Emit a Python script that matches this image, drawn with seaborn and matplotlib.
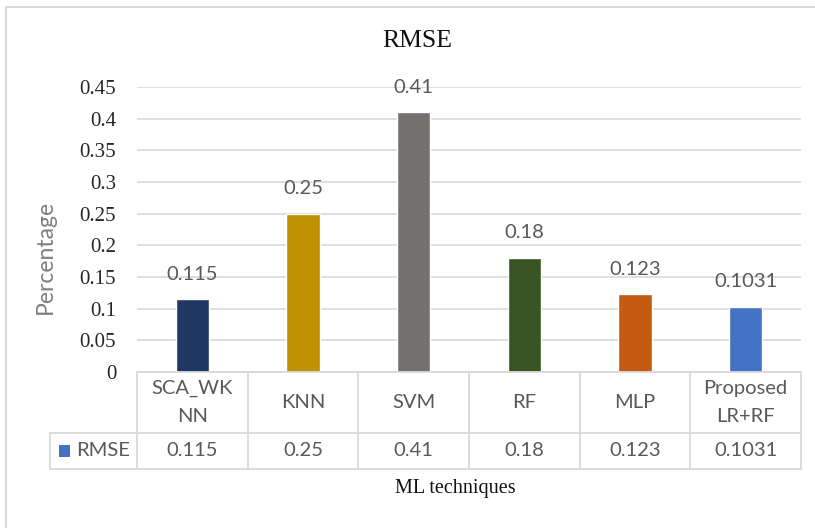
import matplotlib
matplotlib.use("Agg")
import matplotlib.pyplot as plt
from matplotlib.lines import Line2D
from matplotlib.patches import Rectangle
import seaborn as sns
import pandas as pd

# ---- data ----
categories = ["SCA_WK\nNN", "KNN", "SVM", "RF", "MLP", "Proposed\nLR+RF"]
rmse = [0.115, 0.25, 0.41, 0.18, 0.123, 0.1031]
value_labels = ["0.115", "0.25", "0.41", "0.18", "0.123", "0.1031"]
bar_colors = ["#203864", "#BF9000", "#767171", "#375623", "#C55A11", "#4472C4"]
series_name = "RMSE"
yticks = [0, 0.05, 0.1, 0.15, 0.2, 0.25, 0.3, 0.35, 0.4, 0.45]

df = pd.DataFrame({"technique": categories, "rmse": rmse})

sns.set_theme(style="white")
SERIF = ["Liberation Serif", "DejaVu Serif"]
SANS = ["Lato", "DejaVu Sans"]
TXT_GRAY = "#595959"
GRID = "#D9D9D9"
SANS_SIZE = 14.5

W, H = 815, 528
fig = plt.figure(figsize=(W / 100, H / 100), dpi=100)
fig.patch.set_facecolor("white")


def fx(px):
    return px / W


def fy(py):
    return 1 - py / H


# plot area in pixel coordinates
L, R, T, B = 137, 801, 87, 372
ax = fig.add_axes([fx(L), fy(B), fx(R - L), (B - T) / H])

sns.barplot(data=df, x="technique", y="rmse", hue="technique",
            palette=bar_colors, width=0.30, saturation=1, legend=False,
            ax=ax, zorder=3)

ax.set_xlim(-0.5, len(categories) - 0.5)
ax.set_ylim(0, 0.45)
ax.set_yticks(yticks)
ax.set_yticklabels([("%g" % v) for v in yticks], fontfamily=SERIF,
                   fontsize=15, color="#262626")
ax.tick_params(axis="y", length=0, pad=15)
ax.set_xticks([])
ax.set_xlabel("")
ax.set_ylabel("")
for s in ax.spines.values():
    s.set_visible(False)
ax.yaxis.grid(True, color=GRID, lw=1.2, zorder=0)
ax.set_axisbelow(True)

# value labels above bars
for i, (v, lab) in enumerate(zip(rmse, value_labels)):
    ax.annotate(lab, (i, v), xytext=(0, 18), textcoords="offset points",
                ha="center", va="center", fontsize=SANS_SIZE, color=TXT_GRAY,
                fontfamily=SANS)

# ---- data table below the plot ----
col_w = (R - L) / len(categories)
row1, row2 = 433, 469
key_left = 50
lines = []
lines.append(((L, R), (B, B)))
lines.append(((key_left, R), (row1, row1)))
lines.append(((key_left, R), (row2, row2)))
lines.append(((key_left, key_left), (row1, row2)))
for i in range(len(categories) + 1):
    x = L + i * col_w
    lines.append(((x, x), (B, row2)))
for xs, ys in lines:
    fig.add_artist(Line2D([fx(x) for x in xs], [fy(y) for y in ys],
                          color=GRID, lw=1.3))

for i, (cat, lab) in enumerate(zip(categories, value_labels)):
    cx = L + (i + 0.5) * col_w
    fig.text(fx(cx), fy((B + row1) / 2), cat, ha="center", va="center",
             fontsize=SANS_SIZE, color=TXT_GRAY, fontfamily=SANS,
             linespacing=1.75)
    fig.text(fx(cx), fy((row1 + row2) / 2), lab, ha="center", va="center",
             fontsize=SANS_SIZE, color=TXT_GRAY, fontfamily=SANS)

# legend key in the table
fig.add_artist(Rectangle((fx(59), fy(457)), fx(11), 12 / H,
                         color=bar_colors[-1], lw=0))
fig.text(fx(76), fy((row1 + row2) / 2), series_name, ha="left", va="center",
         fontsize=SANS_SIZE, color=TXT_GRAY, fontfamily=SANS)

# titles
fig.text(fx(417), fy(41), "RMSE", ha="center", va="center",
         fontsize=18.5, color="#111111", fontfamily=SERIF)
fig.text(fx(455), fy(489), "ML techniques", ha="center", va="center",
         fontsize=14.5, color="#111111", fontfamily=SERIF)
fig.text(fx(45), fy(257), "Percentage", ha="center", va="center",
         rotation=90, fontsize=16.5, color="#7F7F7F", fontfamily=SANS)

# chart frame
fig.add_artist(Line2D([fx(6), fx(W)], [fy(7), fy(7)], color=GRID, lw=1.5))
fig.add_artist(Line2D([fx(6), fx(6)], [fy(7), fy(H)], color=GRID, lw=1.5))

fig.savefig("out.png", dpi=100, facecolor="white")
